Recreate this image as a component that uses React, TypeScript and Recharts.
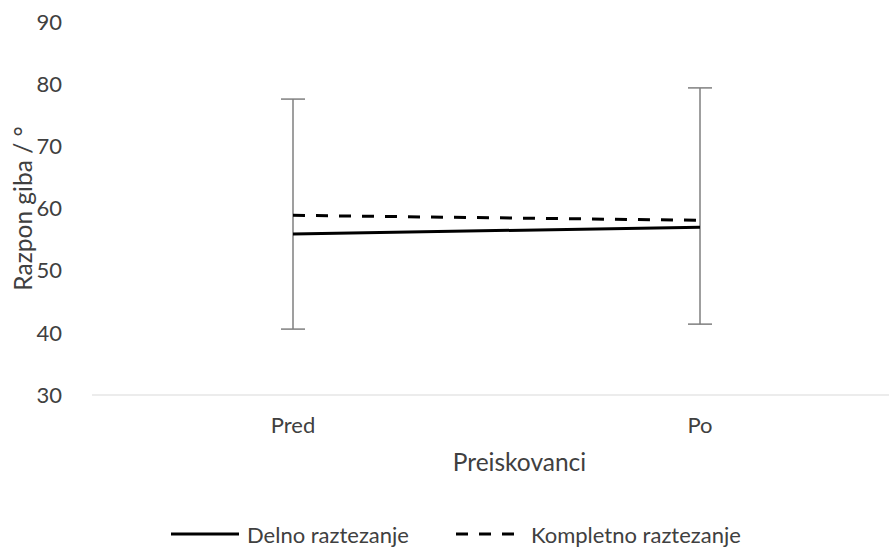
import { LineChart, Line, XAxis, YAxis, ErrorBar, Legend } from 'recharts'

// values
const categories = ['Pred', 'Po']
const delno = [55.9, 57.0]
const kompletno = [58.9, 58.1]
// Delno shows only the lower whisker, Kompletno only the upper one
const delnoErrMinus = [15.3, 15.6]
const kompletnoErrPlus = [18.7, 21.3]
const yTicks = [30, 40, 50, 60, 70, 80, 90]

const seriesNames = { delno: 'Delno raztezanje', kompletno: 'Kompletno raztezanje' }

// one whisker per category, running from Delno's low end up to Kompletno's high end
const data = categories.map((name, i) => ({
  name,
  delno: delno[i],
  kompletno: kompletno[i],
  whisker: [kompletno[i] - (delno[i] - delnoErrMinus[i]), kompletnoErrPlus[i]],
}))

const FONT = 'Lato, "Open Sans", sans-serif'
const TEXT = '#404040'
const FS = 22
const TITLE_FS = 24.5
const DASH = '12 11'

function LegendContent() {
  return (
    <div
      style={{
        display: 'flex',
        justifyContent: 'flex-start',
        alignItems: 'center',
        paddingLeft: 171,
        height: 24,
        fontFamily: FONT,
        fontSize: FS,
        color: TEXT,
      }}
    >
      <div style={{ display: 'flex', alignItems: 'center', marginRight: 47 }}>
        <svg width={68} height={6} style={{ marginRight: 8 }}>
          <line x1={0} y1={3} x2={68} y2={3} stroke="#000" strokeWidth={3} />
        </svg>
        <span>{seriesNames.delno}</span>
      </div>
      <div style={{ display: 'flex', alignItems: 'center' }}>
        <svg width={58} height={6} style={{ marginRight: 17 }}>
          <line x1={0} y1={3} x2={58} y2={3} stroke="#000" strokeWidth={3} strokeDasharray={DASH} />
        </svg>
        <span>{seriesNames.kompletno}</span>
      </div>
    </div>
  )
}

export default function App() {
  return (
    <div style={{ width: 889, height: 547, overflow: 'hidden', position: 'relative', background: '#fff' }}>
      <style>{`body { margin: 0; }`}</style>
      <LineChart
        width={905}
        height={547}
        data={data}
        margin={{ top: 22, right: 0, bottom: 38, left: 0 }}
        style={{ fontFamily: FONT }}
      >
        <XAxis
          dataKey="name"
          padding={{ left: 201, right: 205 }}
          axisLine={{ stroke: '#d9d9d9', strokeWidth: 1 }}
          tickLine={false}
          tickSize={0}
          tickMargin={22}
          height={90}
          tick={{ fill: TEXT, fontSize: FS }}
          label={{
            content: (props: any) => {
              const { viewBox } = props
              return (
                <text
                  x={viewBox.x + viewBox.width / 2 + 21}
                  y={viewBox.y + 66}
                  dominantBaseline="central"
                  textAnchor="middle"
                  fill={TEXT}
                  fontSize={TITLE_FS}
                  fontFamily={FONT}
                >
                  Preiskovanci
                </text>
              )
            },
          }}
        />
        <YAxis
          domain={[30, 90]}
          ticks={yTicks}
          width={92}
          axisLine={false}
          tickLine={false}
          tickSize={0}
          tickMargin={30}
          tick={{ fill: TEXT, fontSize: FS }}
          label={{
            content: (props: any) => {
              const { viewBox } = props
              const cx = viewBox.x + 22
              const cy = viewBox.y + viewBox.height / 2
              return (
                <text
                  x={cx}
                  y={cy}
                  transform={`rotate(-90 ${cx} ${cy})`}
                  textAnchor="middle"
                  dominantBaseline="central"
                  fill={TEXT}
                  fontSize={TITLE_FS}
                  fontFamily={FONT}
                >
                  Razpon giba / °
                </text>
              )
            },
          }}
        />
        <Legend
          verticalAlign="bottom"
          content={<LegendContent />}
          wrapperStyle={{ top: 522, bottom: 'auto', left: 0, width: 889 }}
        />
        {/* invisible carrier for the whiskers so both lines sit on top of them */}
        <Line
          dataKey="kompletno"
          stroke="transparent"
          dot={false}
          activeDot={false}
          legendType="none"
          isAnimationActive={false}
        >
          <ErrorBar dataKey="whisker" direction="y" width={12} stroke="#7f7f7f" strokeWidth={1.5} />
        </Line>
        <Line
          dataKey="delno"
          name={seriesNames.delno}
          stroke="#000"
          strokeWidth={3}
          dot={false}
          activeDot={false}
          isAnimationActive={false}
        />
        <Line
          dataKey="kompletno"
          name={seriesNames.kompletno}
          stroke="#000"
          strokeWidth={3}
          strokeDasharray={DASH}
          dot={false}
          activeDot={false}
          isAnimationActive={false}
        />
      </LineChart>
    </div>
  )
}
